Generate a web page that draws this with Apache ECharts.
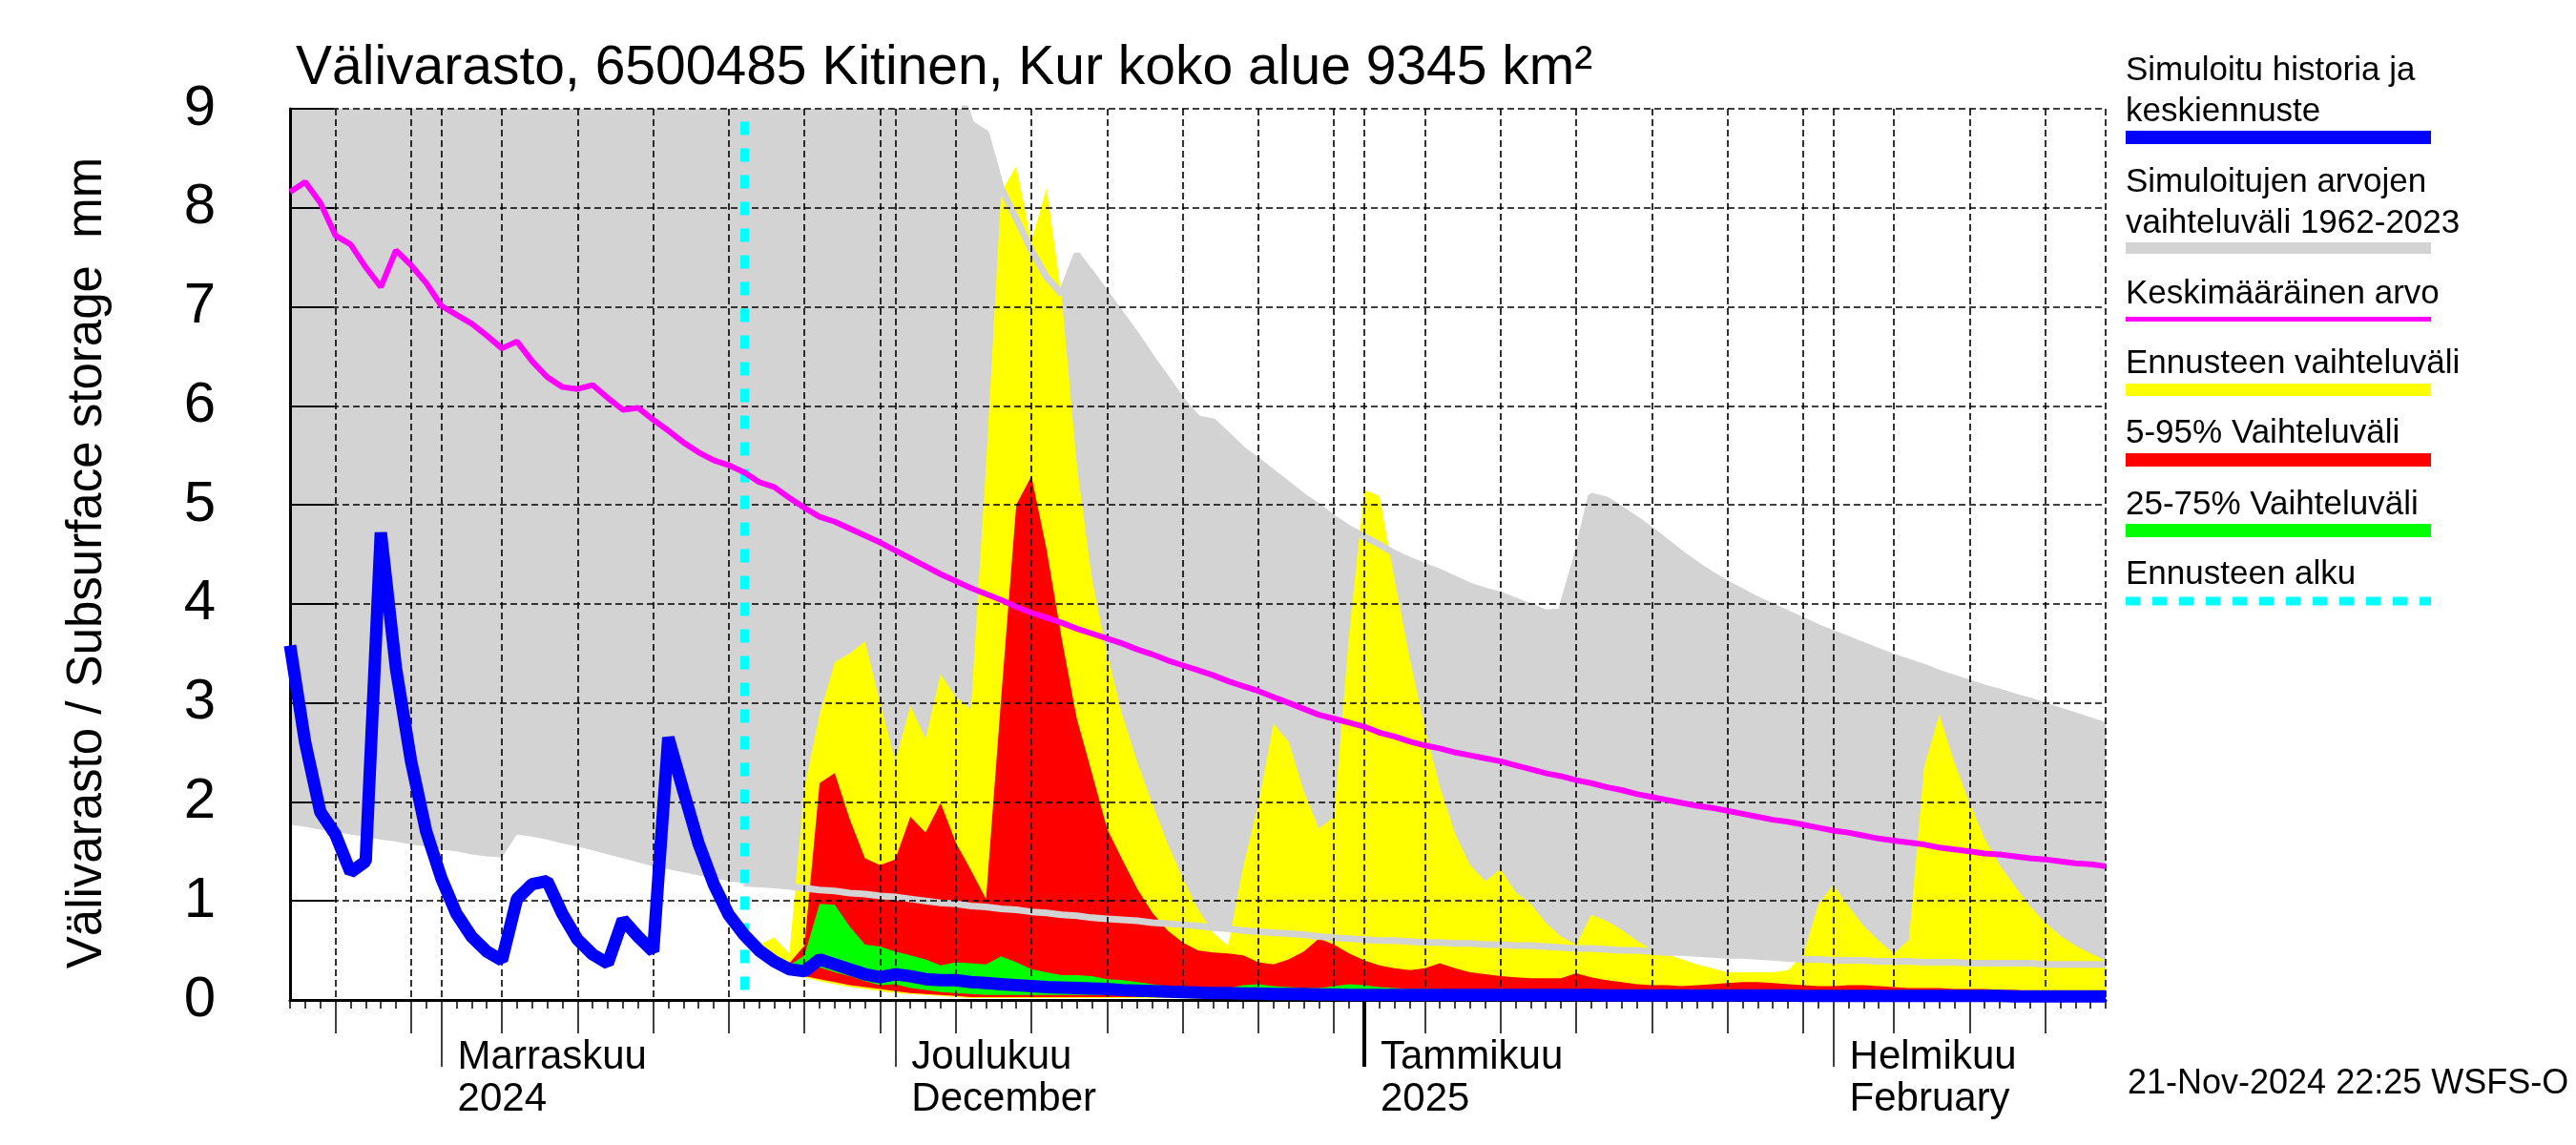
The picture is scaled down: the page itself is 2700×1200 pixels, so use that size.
<!DOCTYPE html>
<html>
<head>
<meta charset="utf-8">
<script src="https://cdn.jsdelivr.net/npm/echarts@6/dist/echarts.min.js"></script>
<style>html,body{margin:0;padding:0;background:#fff}#c{width:2700px;height:1200px}</style>
</head>
<body>
<div id="c"></div>
<script>
// ---------- axis domain ----------
const startDate = '2024-10-22';
const dayCount = 121;
const forecastStartDate = '2024-11-21';
const gridDaysOfMonth = [1, 5, 10, 15, 20, 25, 30];
const fiveDayTickDays = [5, 10, 15, 20, 25, 30];
const monthTickDates = ['2024-11-01', '2024-12-01', '2025-01-01', '2025-02-01'];
const monthTickLabels = ['Marraskuu\n2024', 'Joulukuu\nDecember', 'Tammikuu\n2025', 'Helmikuu\nFebruary'];
const yearStartDate = '2025-01-01';
const yTicks = [0, 9, 1];

// ---------- series (daily values, mm) ----------
const simulated = [3.58,2.60,1.90,1.67,1.29,1.40,4.72,3.35,2.41,1.70,
 1.23,0.87,0.64,0.49,0.40,1.02,1.17,1.20,0.87,0.61,
 0.46,0.37,0.81,0.64,0.49,2.65,2.11,1.58,1.17,0.86,
 0.66,0.50,0.39,0.31,0.29,0.41,0.36,0.31,0.26,0.23,
 0.26,0.24,0.21,0.20,0.20,0.18,0.17,0.16,0.15,0.14,
 0.13,0.125,0.12,0.115,0.11,0.10,0.095,0.09,0.085,0.08,
 0.075,0.07,0.07,0.065,0.065,0.06,0.06,0.06,0.055,0.055,
 0.05,0.05,0.05,0.05,0.05,0.05,0.05,0.05,0.05,0.05,
 0.05,0.05,0.05,0.05,0.05,0.05,0.05,0.045,0.045,0.045,
 0.045,0.045,0.045,0.045,0.045,0.045,0.045,0.045,0.045,0.045,
 0.04,0.04,0.04,0.04,0.04,0.04,0.04,0.04,0.04,0.04,
 0.04,0.04,0.04,0.04,0.035,0.035,0.035,0.035,0.035,0.035,0.035];

const meanValue = [8.16,8.26,8.05,7.72,7.63,7.40,7.20,7.57,7.42,7.24,
 7.01,6.92,6.83,6.71,6.58,6.65,6.45,6.29,6.19,6.17,
 6.21,6.08,5.96,5.98,5.86,5.75,5.63,5.53,5.45,5.40,
 5.33,5.23,5.18,5.07,4.97,4.88,4.83,4.76,4.69,4.62,
 4.54,4.46,4.38,4.30,4.23,4.16,4.10,4.04,3.97,3.91,
 3.86,3.81,3.75,3.70,3.65,3.60,3.54,3.49,3.43,3.38,
 3.33,3.28,3.22,3.17,3.12,3.06,3.00,2.94,2.88,2.84,
 2.80,2.76,2.70,2.66,2.61,2.57,2.54,2.50,2.47,2.44,
 2.41,2.37,2.33,2.29,2.26,2.22,2.19,2.15,2.12,2.08,
 2.05,2.02,1.99,1.96,1.94,1.91,1.88,1.85,1.82,1.80,
 1.77,1.74,1.71,1.69,1.66,1.63,1.61,1.59,1.57,1.54,
 1.52,1.50,1.48,1.47,1.45,1.43,1.42,1.40,1.38,1.37,1.35];

const histLow = [1.77,1.75,1.72,1.70,1.67,1.65,1.62,1.60,1.57,1.55,
 1.52,1.50,1.47,1.45,1.44,1.67,1.65,1.62,1.58,1.55,
 1.51,1.47,1.43,1.39,1.35,1.32,1.29,1.26,1.23,1.20,
 1.18,1.17,1.16,1.15,1.13,1.11,1.10,1.08,1.07,1.05,
 1.04,1.02,1.00,0.98,0.97,0.95,0.94,0.92,0.91,0.89,
 0.88,0.86,0.85,0.83,0.82,0.81,0.80,0.78,0.77,0.76,
 0.75,0.73,0.72,0.70,0.69,0.68,0.67,0.66,0.64,0.63,
 0.62,0.61,0.60,0.60,0.59,0.58,0.58,0.57,0.57,0.56,
 0.56,0.55,0.55,0.54,0.53,0.52,0.52,0.51,0.50,0.50,
 0.49,0.48,0.48,0.47,0.46,0.45,0.45,0.44,0.43,0.42,
 0.41,0.41,0.40,0.40,0.40,0.39,0.39,0.39,0.38,0.38,
 0.38,0.37,0.37,0.37,0.37,0.37,0.36,0.36,0.36,0.36,0.36];

const histHigh = [9.3,9.3,9.3,9.3,9.3,9.3,9.3,9.3,9.3,9.3,
 9.3,9.3,9.3,9.3,9.3,9.3,9.3,9.3,9.3,9.3,
 9.3,9.3,9.3,9.3,9.3,9.3,9.3,9.3,9.3,9.3,
 9.3,9.3,9.3,9.3,9.3,9.3,9.3,9.3,9.3,9.3,
 9.3,9.3,9.3,9.3,9.3,8.85,8.75,8.20,7.89,7.57,
 7.30,7.13,7.53,7.33,7.12,6.91,6.70,6.47,6.26,6.04,
 5.87,5.84,5.70,5.55,5.44,5.32,5.20,5.08,4.98,4.86,
 4.76,4.68,4.60,4.51,4.44,4.38,4.32,4.25,4.18,4.13,
 4.09,4.03,3.97,3.91,3.92,4.45,5.09,5.05,4.95,4.85,
 4.74,4.62,4.50,4.39,4.29,4.20,4.12,4.04,3.97,3.90,
 3.83,3.76,3.70,3.64,3.58,3.52,3.46,3.41,3.36,3.30,
 3.25,3.20,3.15,3.11,3.06,3.02,2.97,2.92,2.87,2.82,2.77];

// forecast series, from 21-Nov-2024 onwards
const fcMaxValue = [0.66,0.56,0.63,0.47,2.15,2.88,3.41,3.50,3.62,3.00,
 2.41,2.97,2.64,3.29,3.06,2.94,5.40,8.16,8.42,7.66,
 8.20,7.10,5.40,4.25,3.50,2.88,2.40,1.98,1.58,1.23,
 0.92,0.68,0.55,1.35,1.98,2.79,2.61,2.11,1.73,1.85,
 3.70,5.15,5.09,4.25,3.45,2.75,2.15,1.68,1.36,1.20,
 1.32,1.09,0.97,0.78,0.64,0.56,0.86,0.80,0.71,0.60,
 0.51,0.46,0.41,0.36,0.32,0.28,0.28,0.28,0.28,0.30,
 0.45,0.96,1.16,0.95,0.75,0.60,0.47,0.61,2.35,2.88,
 2.40,1.99,1.63,1.36,1.15,0.95,0.78,0.65,0.55,0.47,0.40];
const fcMinValue = [0.66,0.49,0.39,0.31,0.23,0.19,0.16,0.13,0.11,0.09,
 0.07,0.06,0.05,0.04,0.03,0.02,0.02,0.02,0.02,0.02,
 0.02,0.02,0.02,0.02,0.02,0.02,0.02,0.02,0.02,0.02,
 0.01,0.01,0.01,0.01,0.01,0.01,0.01,0.01,0.01,0.01,
 0.01,0.01,0.01,0.01,0.01,0.01,0.01,0.01,0.01,0.01,
 0.01,0.01,0.01,0.01,0.01,0.01,0.01,0.01,0.01,0.01,
 0.01,0.01,0.01,0.01,0.01,0.01,0.01,0.01,0.01,0.01,
 0.01,0.01,0.01,0.01,0.01,0.01,0.01,0.01,0.01,0.01,
 0.01,0.01,0.01,0.01,0.01,0.01,0.01,0.01,0.01,0.01,0.01];
const fcP95 = [0.66,0.53,0.44,0.37,0.55,2.19,2.29,1.82,1.43,1.36,
 1.42,1.85,1.69,1.99,1.59,1.31,1.02,3.05,5.00,5.29,
 4.55,3.65,2.84,2.29,1.73,1.42,1.12,0.88,0.70,0.58,
 0.50,0.48,0.47,0.45,0.38,0.36,0.41,0.49,0.62,0.56,
 0.47,0.40,0.35,0.32,0.30,0.32,0.37,0.32,0.28,0.26,
 0.24,0.23,0.22,0.22,0.22,0.27,0.23,0.20,0.18,0.16,
 0.15,0.15,0.14,0.15,0.16,0.17,0.18,0.18,0.17,0.16,
 0.15,0.14,0.14,0.15,0.15,0.14,0.13,0.12,0.12,0.12,
 0.11,0.11,0.11,0.10,0.10,0.09,0.09,0.09,0.08,0.08,0.08];
const fcP5 = [0.66,0.50,0.40,0.32,0.24,0.21,0.18,0.15,0.13,0.11,
 0.09,0.07,0.06,0.05,0.04,0.03,0.03,0.03,0.03,0.03,
 0.03,0.03,0.03,0.03,0.03,0.03,0.03,0.03,0.03,0.03,
 0.03,0.03,0.03,0.03,0.03,0.03,0.03,0.03,0.03,0.03,
 0.02,0.02,0.02,0.02,0.02,0.02,0.02,0.02,0.02,0.02,
 0.02,0.02,0.02,0.02,0.02,0.02,0.02,0.02,0.02,0.02,
 0.02,0.02,0.02,0.02,0.02,0.02,0.02,0.02,0.02,0.02,
 0.02,0.02,0.02,0.02,0.02,0.02,0.02,0.02,0.02,0.02,
 0.02,0.02,0.02,0.02,0.02,0.02,0.02,0.02,0.02,0.02,0.02];
const fcP75 = [0.66,0.52,0.42,0.35,0.45,0.97,0.96,0.74,0.56,0.54,
 0.49,0.45,0.41,0.35,0.38,0.37,0.36,0.44,0.38,0.31,
 0.28,0.25,0.25,0.24,0.21,0.20,0.18,0.16,0.14,0.13,
 0.12,0.12,0.12,0.15,0.16,0.14,0.13,0.12,0.12,0.14,
 0.16,0.15,0.13,0.12,0.11,0.11,0.11,0.10,0.10,0.10,
 0.10,0.10,0.10,0.10,0.10,0.10,0.09,0.09,0.09,0.09,
 0.09,0.09,0.09,0.09,0.09,0.08,0.08,0.08,0.08,0.08,
 0.08,0.08,0.08,0.08,0.08,0.08,0.08,0.07,0.07,0.07,
 0.07,0.07,0.07,0.07,0.07,0.07,0.07,0.07,0.07,0.07,0.07];
const fcP25 = [0.66,0.51,0.41,0.33,0.24,0.33,0.28,0.24,0.19,0.15,
 0.16,0.12,0.10,0.08,0.07,0.06,0.05,0.05,0.05,0.05,
 0.05,0.05,0.05,0.05,0.05,0.05,0.05,0.05,0.05,0.05,
 0.05,0.05,0.05,0.05,0.05,0.05,0.05,0.05,0.05,0.05,
 0.04,0.04,0.04,0.04,0.04,0.04,0.04,0.04,0.04,0.04,
 0.04,0.04,0.04,0.04,0.04,0.04,0.04,0.04,0.04,0.04,
 0.04,0.04,0.04,0.04,0.04,0.04,0.04,0.04,0.04,0.04,
 0.04,0.04,0.04,0.04,0.04,0.04,0.04,0.04,0.04,0.04,
 0.04,0.04,0.04,0.04,0.04,0.04,0.04,0.04,0.04,0.04,0.04];

// ---------- texts ----------
const titleText = 'Välivarasto, 6500485 Kitinen, Kur koko alue 9345 km²';
const yAxisTitle = 'Välivarasto / Subsurface storage  mm';
const stampText = '21-Nov-2024 22:25 WSFS-O';
const legendTexts = [
  ['Simuloitu historia ja', 'keskiennuste'],
  ['Simuloitujen arvojen', 'vaihteluväli 1962-2023'],
  ['Keskimääräinen arvo'],
  ['Ennusteen vaihteluväli'],
  ['5-95% Vaihteluväli'],
  ['25-75% Vaihteluväli'],
  ['Ennusteen alku']
];

// ---------- build ----------
const FONT = '"Liberation Sans", Arial, Helvetica, sans-serif';
const dates = [];
{
  const d0 = new Date(startDate + 'T00:00:00Z');
  for (let i = 0; i < dayCount; i++) {
    const d = new Date(d0.getTime() + i * 86400000);
    dates.push(d.toISOString().slice(0, 10));
  }
}
const dom = v => parseInt(v.slice(8, 10), 10);
const fcStart = dates.indexOf(forecastStartDate);
const pad = arr => new Array(fcStart).fill(null).concat(arr);
const diff = (hi, lo) => hi.map((v, i) => (v == null || lo[i] == null) ? null : +(v - lo[i]).toFixed(4));

const yMaxP = pad(fcMaxValue), yMinP = pad(fcMinValue);
const r95 = pad(fcP95), r5 = pad(fcP5);
const g75 = pad(fcP75), g25 = pad(fcP25);
const histLowFc = histLow.map((v, i) => i >= fcStart ? v : null);
const histHighFc = histHigh.map((v, i) => i >= fcStart ? v : null);

function base(name, data, stack, z) {
  return { name, type: 'line', data, stack, z, symbol: 'none', silent: true,
    lineStyle: { width: 0, opacity: 0 }, animation: false };
}
function band(name, data, stack, color, z) {
  return { name, type: 'line', data, stack, z, symbol: 'none', silent: true,
    lineStyle: { width: 0, opacity: 0 }, areaStyle: { color, opacity: 1 }, animation: false };
}
function line(name, data, color, width, z) {
  return { name, type: 'line', data, z, symbol: 'none', silent: true,
    lineStyle: { color, width }, animation: false };
}

const catBase = { type: 'category', data: dates, boundaryGap: false, position: 'bottom',
  axisLine: { show: false, onZero: false }, axisLabel: { show: false }, splitLine: { show: false } };

const legendY = [
  { lines: [86, 129], bar: [137, 14], color: '#0000ff' },
  { lines: [203, 246], bar: [254, 12], color: '#d3d3d3' },
  { lines: [320], bar: [332, 5], color: '#ff00ff' },
  { lines: [393], bar: [402, 13], color: '#ffff00' },
  { lines: [466], bar: [475, 14], color: '#ff0000' },
  { lines: [541], bar: [549, 14], color: '#00ff00' },
  { lines: [614], bar: null, color: '#00ffff' }
];
const LX = 2228, LW = 320, LFS = 35;
const graphics = [];
legendY.forEach((it, k) => {
  legendTexts[k].forEach((t, j) => {
    graphics.push({ type: 'text', x: LX, y: it.lines[j] - 0.32 * LFS, silent: true,
      style: { text: t, fill: '#000', font: LFS + 'px ' + FONT, fontSize: LFS, fontFamily: FONT,
        align: 'left', textAlign: 'left', verticalAlign: 'middle', textVerticalAlign: 'middle' } });
  });
  if (it.bar) {
    graphics.push({ type: 'rect', silent: true, shape: { x: LX, y: it.bar[0], width: LW, height: it.bar[1] },
      style: { fill: it.color } });
  } else {
    graphics.push({ type: 'line', silent: true, shape: { x1: LX, y1: 630, x2: LX + LW, y2: 630 },
      style: { stroke: it.color, lineWidth: 9, lineDash: [15, 13] } });
  }
});
graphics.push({ type: 'text', x: 310, y: 91 - 0.32 * 57, silent: true,
  style: { text: titleText, fill: '#000', font: '57px ' + FONT, fontSize: 57, fontFamily: FONT,
    align: 'left', textAlign: 'left', verticalAlign: 'middle', textVerticalAlign: 'middle' } });
graphics.push({ type: 'text', x: 92, y: 590, rotation: Math.PI / 2, silent: true,
  style: { text: yAxisTitle, fill: '#000', font: '51px ' + FONT, fontSize: 51, fontFamily: FONT,
    align: 'center', textAlign: 'center', verticalAlign: 'middle', textVerticalAlign: 'middle' } });
graphics.push({ type: 'text', x: 2230, y: 1148 - 0.32 * 36, silent: true,
  style: { text: stampText, fill: '#000', font: '36px ' + FONT, fontSize: 36, fontFamily: FONT,
    align: 'left', textAlign: 'left', verticalAlign: 'middle', textVerticalAlign: 'middle' } });

const gridLine = { color: '#000', width: 1.6, type: [7, 4] };

const option = {
  backgroundColor: '#ffffff',
  animation: false,
  grid: { left: 304, right: 493, top: 114, bottom: 152, containLabel: false },
  xAxis: [
    Object.assign({}, catBase, {
      z: 5,
      axisLine: { show: true, onZero: false, lineStyle: { color: '#000', width: 3 } },
      axisTick: { show: true, interval: 0, length: 9, lineStyle: { color: '#000', width: 1.5 } },
      splitLine: { show: true, interval: (i, v) => gridDaysOfMonth.includes(dom(v)) || i === dates.length - 1,
        lineStyle: gridLine },
      axisLabel: { show: true, interval: (i, v) => monthTickDates.includes(v),
        formatter: v => { const k = monthTickDates.indexOf(v); return k >= 0 ? monthTickLabels[k] : ''; },
        align: 'left', padding: [0, 0, 0, 17], margin: 38, fontSize: 42, lineHeight: 44,
        color: '#000', fontFamily: FONT }
    }),
    Object.assign({}, catBase, { z: 5,
      axisTick: { show: true, interval: (i, v) => fiveDayTickDays.includes(dom(v)), length: 35,
        lineStyle: { color: '#000', width: 1.5 } } }),
    Object.assign({}, catBase, { z: 5,
      axisTick: { show: true, interval: (i, v) => dom(v) === 1, length: 70,
        lineStyle: { color: '#000', width: 1.5 } } }),
    Object.assign({}, catBase, { z: 5,
      axisTick: { show: true, interval: (i, v) => v === yearStartDate, length: 70,
        lineStyle: { color: '#000', width: 4 } } })
  ],
  yAxis: {
    type: 'value', min: yTicks[0], max: yTicks[1], interval: yTicks[2], z: 5,
    axisLine: { show: true, lineStyle: { color: '#000', width: 3 } },
    axisTick: { show: true, inside: true, length: 46, lineStyle: { color: '#000', width: 2 } },
    axisLabel: { fontSize: 60, margin: 78, color: '#000', fontFamily: FONT },
    splitLine: { show: true, lineStyle: gridLine }
  },
  graphic: graphics,
  series: [
    base('histLow', histLow, 'hist', 1),
    band('histBand', diff(histHigh, histLow), 'hist', '#d3d3d3', 1),
    base('fcMin', yMinP, 'fc', 2),
    band('fcRange', diff(yMaxP, yMinP), 'fc', '#ffff00', 2),
    base('p5', r5, 'p90', 3),
    band('p5p95', diff(r95, r5), 'p90', '#ff0000', 3),
    base('p25', g25, 'p50', 3),
    band('p25p75', diff(g75, g25), 'p50', '#00ff00', 3),
    line('histLowLine', histLowFc, '#d3d3d3', 7, 4),
    line('histHighLine', histHighFc, '#d3d3d3', 7, 4),
    line('mean', meanValue, '#ff00ff', 6, 6),
    line('simulated', simulated, '#0000ff', 13, 7),
    { name: 'forecastStart', type: 'line', data: dates.map(() => null), z: 8, symbol: 'none', silent: true,
      animation: false,
      markLine: { symbol: ['none', 'none'], silent: true, animation: false, label: { show: false },
        lineStyle: { color: '#00ffff', width: 9, type: [14, 14] },
        data: [[{ coord: [forecastStartDate, 8.87] }, { coord: [forecastStartDate, 0] }]] } }
  ]
};

const chart = echarts.init(document.getElementById('c'), null, { renderer: 'canvas', width: 2700, height: 1200 });
chart.setOption(option);
</script>
</body>
</html>
